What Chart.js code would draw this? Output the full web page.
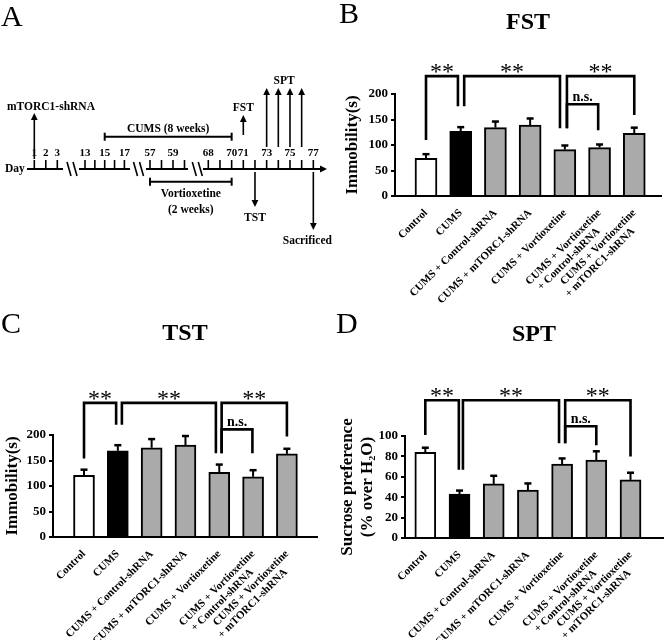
<!DOCTYPE html>
<html>
<head>
<meta charset="utf-8">
<script src="https://cdn.jsdelivr.net/npm/chart.js@4.4.1/dist/chart.umd.min.js"></script>
<style>
html, body { margin: 0; padding: 0; background: #fff; }
#fig { position: relative; width: 666px; height: 640px; overflow: hidden; background: #fff; }
#fig canvas { position: absolute; }
.panel { position: absolute; font-family: 'Liberation Serif', 'Times New Roman', serif; font-size: 30px; line-height: 30px; color: #000; }
</style>
</head>
<body>
<div id="fig">
  <canvas id="cA" width="333" height="260" style="left:0px;top:0px"></canvas>
  <canvas id="cB" width="333" height="318" style="left:333px;top:0px"></canvas>
  <canvas id="cC" width="333" height="330" style="left:0px;top:310px"></canvas>
  <canvas id="cD" width="333" height="330" style="left:333px;top:310px"></canvas>
  <div class="panel" style="left:1px;top:1px">A</div>
  <div class="panel" style="left:339px;top:-2px">B</div>
  <div class="panel" style="left:1px;top:308px">C</div>
  <div class="panel" style="left:336px;top:308px">D</div>
</div>
<script>
// ---------------- data ----------------
const groups = [
  'Control',
  'CUMS',
  'CUMS + Control-shRNA',
  'CUMS + mTORC1-shRNA',
  'CUMS + Vortioxetine',
  ['CUMS + Vortioxetine', '+ Control-shRNA'],
  ['CUMS + Vortioxetine', '+ mTORC1-shRNA']
];

const fstMeans  = [74, 127, 134, 139, 91, 95, 123];
const fstErrors = [8, 8, 12, 13, 8, 6, 11];
const tstMeans  = [121, 169, 175, 180, 127, 118, 163];
const tstErrors = [11, 11, 17, 18, 15, 13, 10];
const sptMeans  = [84, 43, 53, 47, 72.5, 76.5, 57];
const sptErrors = [4.5, 3.5, 8, 6.5, 5.5, 8.5, 7];

const immobilityTicks = [0, 50, 100, 150, 200];
const sucroseTicks    = [0, 20, 40, 60, 80, 100];

// significance brackets: [fromGroup, toGroup, topValue, fromEndValue, toEndValue, label]
const fstBrackets = [
  [0, 0.92, 235, 110, 176, '**'],
  [1.1, 3.86, 235, 176, 133, '**'],
  [4.06, 6, 235, 133, 159, '**'],
  [4.06, 4.96, 180, 133, 129, 'n.s.']
];
const tstBrackets = [
  [0, 0.95, 263, 154, 220, '**'],
  [1.12, 3.9, 263, 220, 164, '**'],
  [4.07, 6, 263, 164, 197, '**'],
  [4.07, 4.98, 211, 164, 164, 'n.s.']
];
const sptBrackets = [
  [0, 0.98, 135, 101, 67, '**'],
  [1.1, 3.91, 135, 67, 93, '**'],
  [4.09, 6, 135, 93, 80, '**'],
  [4.09, 5, 109.5, 93, 91, 'n.s.']
];

// timeline (panel A) — schematic in layout units
const dayRuns = [
  { days: [1, 2, 3], from: 27, to: 63, first: 34.3, pitch: 11.5 },
  { days: [13, 14, 15, 16, 17], from: 79, to: 130, first: 85, pitch: 9.85 },
  { days: [57, 58, 59, 60], from: 146, to: 188, first: 150, pitch: 11.5 },
  { days: [68, 69, 70, 71, 72, 73, 74, 75, 76, 77], from: 203, to: 327, first: 208.3, pitch: 11.67 }
];
const numberedDays = [1, 2, 3, 13, 15, 17, 57, 59, 68, 70, 71, 73, 75, 77];
const breakMarks = [72, 138.5, 197.3];
const periods = [
  { text: ['CUMS (8 weeks)'], fromDay: 15, toDay: 70, level: 136.7, above: true },
  { text: ['Vortioxetine', '(2 weeks)'], fromDay: 57, toDay: 70, level: 181.7, above: false }
];
const events = [
  { text: 'mTORC1-shRNA', days: [1], up: true, tail: 159, head: 113, textLeft: 7 },
  { text: 'FST', days: [71], up: true, tail: 135, head: 115 },
  { text: 'SPT', days: [73, 74, 75, 76], up: true, tail: 147, head: 88 },
  { text: 'TST', days: [72], up: false, tail: 172, head: 207 },
  { text: 'Sacrificed', days: [77], up: false, tail: 172, head: 230, shift: -6 }
];

// ---------------- setup ----------------
const SERIF = "'Liberation Serif', 'Times New Roman', serif";
Chart.defaults.font.family = SERIF;
Chart.defaults.font.weight = 'bold';
Chart.defaults.color = '#000';

const barFills = ['#ffffff', '#000000', '#aaaaaa', '#aaaaaa', '#aaaaaa', '#aaaaaa', '#aaaaaa'];
const secondLinePad = '     ';

function labelFor(v) {
  const g = groups[v];
  if (Array.isArray(g)) return [g[0], g[1] + secondLinePad];
  return g;
}

function annotatePlugin(means, errors, brackets, title, L) {
  return {
    id: 'annotate',
    afterDraw(chart) {
      const { ctx, chartArea } = chart;
      const xs = chart.scales.x, ys = chart.scales.y;
      ctx.save();
      ctx.strokeStyle = '#000';
      ctx.fillStyle = '#000';
      // error bars (upper)
      means.forEach((m, i) => {
        const px = xs.getPixelForValue(i);
        const y0 = ys.getPixelForValue(m);
        const y1 = ys.getPixelForValue(m + errors[i]);
        ctx.lineWidth = 2;
        ctx.beginPath(); ctx.moveTo(px, y0); ctx.lineTo(px, y1); ctx.stroke();
        ctx.lineWidth = 2.5;
        ctx.beginPath(); ctx.moveTo(px - 3.5, y1); ctx.lineTo(px + 3.5, y1); ctx.stroke();
      });
      // brackets
      brackets.forEach(b => {
        const x1 = xs.getPixelForValue(b[0]);
        const x2 = xs.getPixelForValue(b[1]);
        const yt = ys.getPixelForValue(b[2]);
        const ya = ys.getPixelForValue(b[3]);
        const yb = ys.getPixelForValue(b[4]);
        ctx.lineWidth = 2.6;
        ctx.lineJoin = 'miter';
        ctx.beginPath(); ctx.moveTo(x1, ya); ctx.lineTo(x1, yt); ctx.lineTo(x2, yt); ctx.lineTo(x2, yb); ctx.stroke();
        ctx.textAlign = 'center';
        ctx.textBaseline = 'alphabetic';
        if (b[5] === '**') {
          ctx.font = 'normal 24px ' + SERIF;
          ctx.fillText(b[5], (x1 + x2) / 2, yt + 3);
        } else {
          ctx.font = 'bold 14px ' + SERIF;
          ctx.fillText(b[5], (x1 + x2) / 2, yt - 3);
        }
      });
      // chart title
      ctx.font = 'bold 24px ' + SERIF;
      ctx.textAlign = 'center';
      ctx.textBaseline = 'alphabetic';
      ctx.fillText(title, (chartArea.left + chartArea.right) / 2, L.titleBase);
      ctx.restore();
    }
  };
}

function barPanel(id, means, errors, brackets, yTicks, title, L) {
  return new Chart(document.getElementById(id), {
    type: 'bar',
    data: {
      datasets: [{
        data: means.map((m, i) => ({ x: i, y: m })),
        backgroundColor: barFills,
        borderColor: '#000',
        borderWidth: 2,
        barThickness: L.barW
      }]
    },
    options: {
      responsive: false,
      animation: false,
      events: [],
      layout: { padding: { top: L.top, right: L.right, left: 0, bottom: 0 } },
      scales: {
        x: {
          type: 'linear', min: L.xMin, max: L.xMax, bounds: 'data', offset: false,
          grid: { display: false, drawTicks: false, offset: false },
          border: { display: true, color: '#000', width: 2 },
          afterBuildTicks: s => { s.ticks = groups.map((g, i) => ({ value: i })); },
          afterFit: s => { s.height = L.xAxisH; },
          ticks: {
            autoSkip: false, minRotation: 45, maxRotation: 45, padding: 11,
            font: { size: 11, weight: 'bold', lineHeight: 1.1 },
            callback: v => labelFor(v)
          }
        },
        y: {
          type: 'linear', min: yTicks[0], max: yTicks[yTicks.length - 1],
          afterBuildTicks: s => { s.ticks = yTicks.map(v => ({ value: v })); },
          afterFit: s => { s.width = L.yAxisW; },
          grid: { display: true, drawOnChartArea: false, drawTicks: true, tickLength: 4, color: '#000', lineWidth: 2 },
          border: { display: true, color: '#000', width: 2 },
          ticks: { padding: 3, font: { size: 13, weight: 'bold' } },
          title: { display: true, text: L.yTitle, font: { size: 17, weight: 'bold' }, padding: { top: L.yTitlePad, bottom: 0 } }
        }
      },
      plugins: { legend: { display: false }, tooltip: { enabled: false }, title: { display: false } }
    },
    plugins: [annotatePlugin(means, errors, brackets, title, L)]
  });
}

// ---------------- panel A: timeline ----------------
const timelinePlugin = {
  id: 'timeline',
  afterDraw(chart) {
    const { ctx } = chart;
    const X = v => chart.scales.x.getPixelForValue(v);
    const Y = v => chart.scales.y.getPixelForValue(v);
    const dayX = d => {
      for (const r of dayRuns) {
        const k = r.days.indexOf(d);
        if (k >= 0) return r.first + k * r.pitch;
      }
      return NaN;
    };
    const axisY = 169;
    const seg = (x1, y1, x2, y2, w) => {
      ctx.lineWidth = w || 2;
      ctx.beginPath(); ctx.moveTo(X(x1), Y(y1)); ctx.lineTo(X(x2), Y(y2)); ctx.stroke();
    };
    const head = (x, y, dx, dy) => {
      const L = 7, W = 3.4;
      const px = X(x), py = Y(y);
      ctx.beginPath();
      ctx.moveTo(px, py);
      ctx.lineTo(px - dx * L - dy * W, py - dy * L + dx * W);
      ctx.lineTo(px - dx * L + dy * W, py - dy * L - dx * W);
      ctx.closePath(); ctx.fill();
    };
    ctx.save();
    ctx.strokeStyle = '#000'; ctx.fillStyle = '#000';
    ctx.lineCap = 'butt';
    const font = 'bold 11.5px ' + SERIF;
    ctx.font = font;

    ctx.textAlign = 'left'; ctx.textBaseline = 'middle';
    ctx.fillText('Day', X(5), Y(axisY));

    dayRuns.forEach((r, i) => {
      const last = i === dayRuns.length - 1;
      seg(r.from, axisY, last ? r.to - 4 : r.to, axisY, 2);
      r.days.forEach(d => seg(dayX(d), axisY, dayX(d), axisY - 9, 1.6));
      if (last) head(r.to, axisY, 1, 0);
    });
    breakMarks.forEach(c => {
      seg(c - 5, axisY - 7, c - 1, axisY + 7, 1.6);
      seg(c + 1, axisY - 7, c + 5, axisY + 7, 1.6);
    });
    ctx.font = 'bold 11px ' + SERIF;
    ctx.textAlign = 'center'; ctx.textBaseline = 'alphabetic';
    numberedDays.forEach(d => ctx.fillText(String(d), X(dayX(d)), Y(155.5)));

    ctx.font = font;
    periods.forEach(p => {
      const a = dayX(p.fromDay), b = dayX(p.toDay);
      seg(a, p.level, b, p.level, 2);
      seg(a, p.level - 4, a, p.level + 4, 2);
      seg(b, p.level - 4, b, p.level + 4, 2);
      const cx = (a + b) / 2;
      ctx.textAlign = 'center'; ctx.textBaseline = 'alphabetic';
      if (p.above) {
        ctx.fillText(p.text[0], X(cx), Y(p.level - 5));
      } else {
        p.text.forEach((t, k) => ctx.fillText(t, X(cx), Y(p.level + 15 + k * 16.5)));
      }
    });

    events.forEach(e => {
      e.days.forEach(d => {
        const x = dayX(d);
        if (e.up) { seg(x, e.tail, x, e.head + 5, 1.6); head(x, e.head, 0, -1); }
        else { seg(x, e.tail, x, e.head - 5, 1.6); head(x, e.head, 0, 1); }
      });
      const mid = e.days.reduce((s, d) => s + dayX(d), 0) / e.days.length;
      ctx.textBaseline = 'alphabetic';
      if (e.textLeft !== undefined) { ctx.textAlign = 'left'; ctx.fillText(e.text, X(e.textLeft), Y(e.head - 3)); }
      else {
        ctx.textAlign = 'center';
        const tx = mid + (e.shift || 0);
        ctx.fillText(e.text, X(tx), Y(e.up ? e.head - 4 : e.head + 14));
      }
    });
    ctx.restore();
  }
};

new Chart(document.getElementById('cA'), {
  type: 'scatter',
  data: { datasets: [] },
  options: {
    responsive: false, animation: false, events: [],
    layout: { padding: 0 },
    scales: {
      x: { type: 'linear', min: 0, max: 333, display: false },
      y: { type: 'linear', min: 0, max: 260, reverse: true, display: false }
    },
    plugins: { legend: { display: false }, tooltip: { enabled: false } }
  },
  plugins: [timelinePlugin]
});

// ---------------- panels B, C, D ----------------
barPanel('cB', fstMeans, fstErrors, fstBrackets, immobilityTicks, 'FST', {
  top: 94, right: 5, xAxisH: 122, yAxisW: 62, xMin: -0.893, xMax: 6.77, barW: 22,
  yTitle: 'Immobility(s)', yTitlePad: 9, titleBase: 28.5
});
barPanel('cC', tstMeans, tstErrors, tstBrackets, immobilityTicks, 'TST', {
  top: 125, right: 16, xAxisH: 103, yAxisW: 53, xMin: -0.917, xMax: 6.89, barW: 21,
  yTitle: 'Immobility(s)', yTitlePad: 2, titleBase: 30
});
barPanel('cD', sptMeans, sptErrors, sptBrackets, sucroseTicks, 'SPT', {
  top: 126, right: 3, xAxisH: 102, yAxisW: 72, xMin: -0.594, xMax: 6.95, barW: 21,
  yTitle: ['Sucrose preference', '(% over H\u2082O)'], yTitlePad: 4, titleBase: 31
});
</script>
</body>
</html>
